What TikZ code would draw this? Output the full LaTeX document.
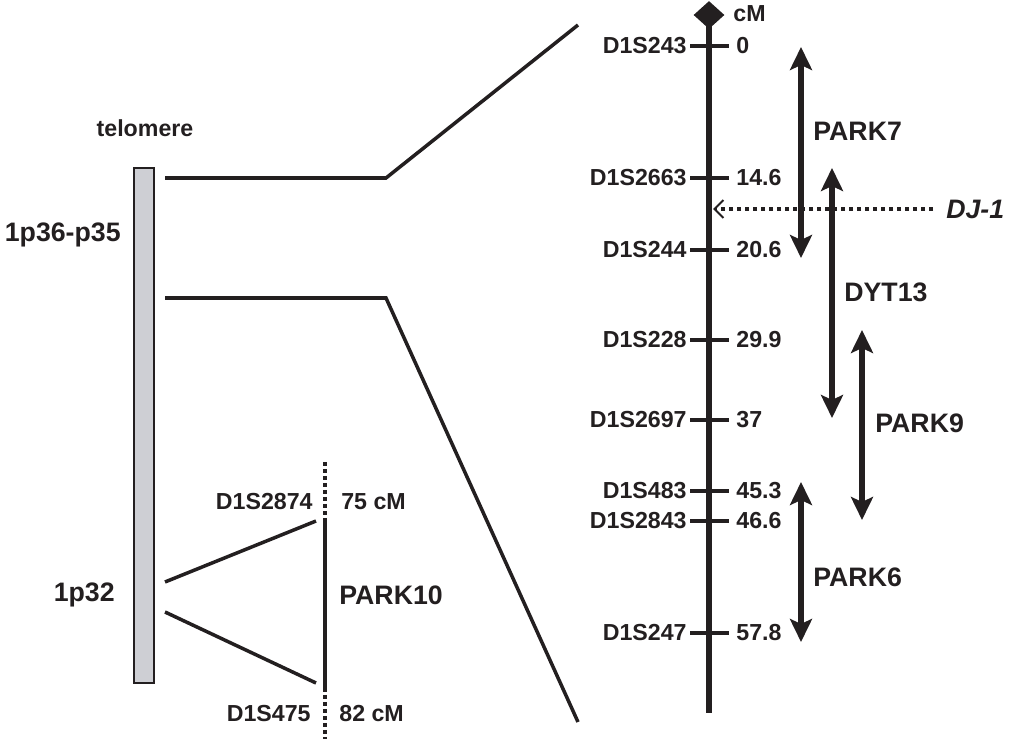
\documentclass[tikz,border=0pt]{standalone}
\usepackage{fontspec}
\setmainfont{Liberation Sans}
\definecolor{InkDark}  {RGB}{35,31,32}
\definecolor{ChromGray}{RGB}{206,207,212}
\usetikzlibrary{arrows.meta,positioning,shapes.geometric}

\begin{document}
\begin{tikzpicture}[x=0.02cm,y=-0.02cm,InkDark,
    marker/.style={font=\fontsize{13.2}{15}\selectfont\bfseries,inner ysep=0pt},
    biglabel/.style={font=\fontsize{15.2}{17}\selectfont\bfseries,inner sep=0pt},
    link/.style={line width=2pt},
    tick/.style={line width=2.3pt},
    span/.style={line width=3.3pt,
      {Stealth[length=0.46cm,width=0.44cm,inset=0.1cm]}-{Stealth[length=0.46cm,width=0.44cm,inset=0.1cm]}}]
  \useasboundingbox (0,0) rectangle (1011,739);
  %% Chromosome 1 (left), grey bar
  \node[draw,fill=ChromGray,line width=1.1pt,inner sep=0pt,
        minimum width=0.4cm,minimum height=10.3cm] (chrom) at (144,425.5) {};
  \node[marker] (telo) at (145,128) {telomere};
  \node[biglabel,anchor=east] (p36) at (121,235) {1p36-p35};
  \node[biglabel,anchor=east] (p32) at (115,595) {1p32};
  %% Zoom lines from 1p36-p35 to the map
  \coordinate (zt0) at (165,178);
  \coordinate (zt1) at (386,178);
  \coordinate (zt2) at (578,25);
  \coordinate (zb0) at (165,298);
  \coordinate (zb1) at (386,298);
  \coordinate (zb2) at (578,722);
  \draw[link] (zt0) -- (zt1) -- (zt2);
  \draw[link] (zb0) -- (zb1) -- (zb2);
  %% PARK10 interval on 1p32
  \coordinate (k10top)  at (325,462);
  \coordinate (k10a)    at (325,521);
  \coordinate (k10b)    at (325,688);
  \coordinate (k10bot)  at (325,739);
  \coordinate (p32up)   at (165,582);
  \coordinate (p32dn)   at (165,612);
  \coordinate (k10up)   at (316,521);
  \coordinate (k10dn)   at (316,683);
  \draw[line width=2.8pt,dash pattern=on 0.08cm off 0.06cm] (k10top) -- (k10a);
  \draw[line width=2.8pt] (k10a) -- (k10b);
  \draw[line width=2.8pt,dash pattern=on 0.08cm off 0.06cm] (k10b) -- (k10bot);
  \draw[link] (p32up) -- (k10up);
  \draw[link] (p32dn) -- (k10dn);
  \node[marker,anchor=east,inner xsep=0pt] (m2874) at (313,502) {D1S2874};
  \node[marker,anchor=west,inner xsep=0pt] (c75)   at (341,502) {75 cM};
  \node[marker,anchor=east,inner xsep=0pt] (m475)  at (311,714) {D1S475};
  \node[marker,anchor=west,inner xsep=0pt] (c82)   at (339,714) {82 cM};
  \node[biglabel,anchor=west] (park10) at (339,595) {PARK10};
  %% Genetic map of 1p36-p35
  \node[diamond,fill,inner sep=0pt,minimum width=0.62cm,minimum height=0.56cm]
       (mtip) at (709,15) {};
  \coordinate (axbot) at (709,713);
  \draw[line width=3.6pt] (mtip.center) -- (axbot);
  \node[marker,anchor=west,inner xsep=0pt] (cm) at (733,14) {cM};
  \foreach \name/\pos/\y in {D1S243/0/46, D1S2663/14.6/178, D1S244/20.6/250,
      D1S228/29.9/340, D1S2697/37/420, D1S483/45.3/491, D1S2843/46.6/521,
      D1S247/57.8/633}{
    \node[marker,anchor=east,inner xsep=0.06cm] (lab-\name) at (690,\y) {\name};
    \node[marker,anchor=west,inner xsep=0.14cm] (val-\name) at (729,\y) {\pos};
    \draw[tick] (lab-\name.east) -- (val-\name.west);
  }
  %% Disease loci
  \coordinate (k7a) at (801,47);   \coordinate (k7b) at (801,258);
  \coordinate (d13a) at (832,168); \coordinate (d13b) at (832,418);
  \coordinate (k9a) at (862,330);  \coordinate (k9b) at (862,520);
  \coordinate (k6a) at (801,482);  \coordinate (k6b) at (801,642);
  \draw[span] (k7a) -- (k7b);
  \draw[span] (d13a) -- (d13b);
  \draw[span] (k9a) -- (k9b);
  \draw[span] (k6a) -- (k6b);
  \node[biglabel,anchor=west] (park7) at (813,131) {PARK7};
  \node[biglabel,anchor=west] (dyt13) at (844,292) {DYT13};
  \node[biglabel,anchor=west] (park9) at (875,423) {PARK9};
  \node[biglabel,anchor=west] (park6) at (813,577) {PARK6};
  %% DJ-1 position
  \node[biglabel,anchor=west,font=\fontsize{15.2}{17}\selectfont\bfseries\itshape]
       (dj1) at (946,209) {DJ-1};
  \coordinate (djend) at (713,209);
  \draw[line width=2pt,dash pattern=on 0.08cm off 0.08cm,
        -{Straight Barb[length=0.18cm,width=0.36cm,line width=1.2pt]}]
       (933,209) -- (djend);
\end{tikzpicture}
\end{document}
